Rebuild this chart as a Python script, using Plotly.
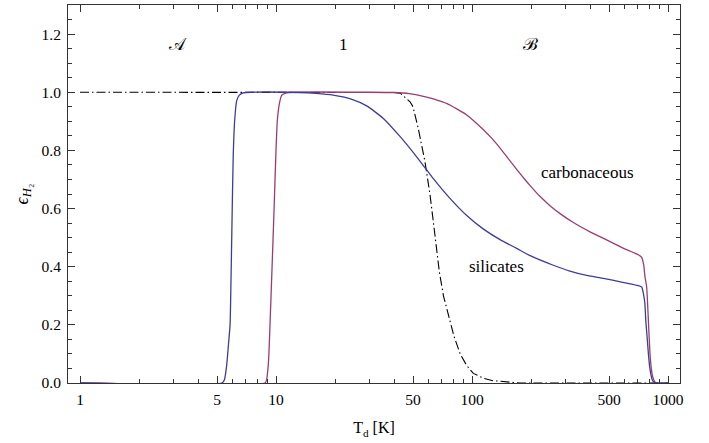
import math
import plotly.graph_objects as go

# ---- data ----
sil_T = [1, 5.3, 5.45, 5.6, 5.75, 5.83, 5.91, 5.98, 6.05, 6.15, 6.3, 6.5, 6.8, 7.5, 13.2, 16, 19.6, 24, 29,
         35.3, 42.9, 52.2, 58.7, 63.5, 77.2, 94, 114, 139, 169, 198, 260, 316, 390, 468, 580, 692,
         734, 750, 762, 770, 782, 794, 805, 816, 830, 850, 870, 1000]
sil_eps = [0, 0, 0.01, 0.06, 0.15, 0.2, 0.4, 0.6, 0.78, 0.9, 0.97, 0.99, 0.998, 1.0, 0.999, 0.996, 0.99,
           0.977, 0.953, 0.91, 0.848, 0.778, 0.733, 0.703, 0.635, 0.576, 0.53, 0.493, 0.463, 0.438,
           0.405, 0.385, 0.369, 0.36, 0.347, 0.336, 0.33, 0.305, 0.274, 0.216, 0.16, 0.102,
           0.06, 0.033, 0.012, 0.002, 0, 0]

carb_T = [1, 8.8, 8.95, 9.1, 9.2, 9.32, 9.55, 9.78, 10.0, 10.15, 10.4, 10.7, 11.3, 12, 30, 40, 48, 56.5,
          63.5, 75, 84, 94, 104, 114, 126, 139, 153, 169, 183, 198, 222, 250, 285, 329, 400, 486,
          590, 680, 706, 734, 752, 763, 778, 794, 809, 822, 835, 855, 876, 1000]
carb_eps = [0, 0, 0.01, 0.05, 0.1, 0.2, 0.4, 0.6, 0.8, 0.9, 0.96, 0.99, 0.998, 1.0, 1.0, 0.999, 0.995,
            0.986, 0.977, 0.96, 0.942, 0.922, 0.897, 0.872, 0.842, 0.808, 0.772, 0.735, 0.706, 0.679,
            0.642, 0.61, 0.58, 0.552, 0.52, 0.492, 0.464, 0.446, 0.441, 0.432, 0.405, 0.365,
            0.331, 0.216, 0.102, 0.05, 0.022, 0.005, 0, 0]

ref_T = [1, 30, 40, 43, 48.3, 50, 53.2, 57.6, 61.1, 64.7, 68.1, 71.5, 75.7, 81, 87, 94, 101.6, 115, 128,
         150, 176, 1000]
ref_eps = [1, 1, 0.999, 0.997, 0.967, 0.95, 0.875, 0.76, 0.646, 0.509, 0.383, 0.3, 0.24, 0.16, 0.10,
           0.06, 0.033, 0.016, 0.008, 0.003, 0.0, 0.0]

x_major = [1, 5, 10, 50, 100, 500, 1000]
x_minor = [2, 3, 4, 6, 7, 8, 9, 20, 30, 40, 60, 70, 80, 90, 200, 300, 400, 600, 700, 800, 900]
y_major = [0, 0.2, 0.4, 0.6, 0.8, 1.0, 1.2]
y_minor = [0.05, 0.1, 0.15, 0.25, 0.3, 0.35, 0.45, 0.5, 0.55, 0.65, 0.7, 0.75, 0.85, 0.9, 0.95,
           1.05, 1.1, 1.15, 1.25]

labels = ["𝒜", "1", "ℬ", "carbonaceous", "silicates"]
label_T = [3.16, 22.0, 198, 390, 134]
label_eps = [1.165, 1.165, 1.165, 0.723, 0.399]

BLUE = "rgb(61,61,153)"
PURPLE = "rgb(153,61,113)"
SERIF = "Liberation Serif, Tinos, Times New Roman, Times, Nimbus Roman, FreeSerif, serif"
AXC = "#333333"

fig = go.Figure()
fig.add_trace(go.Scatter(x=ref_T, y=ref_eps, mode="lines",
                         line=dict(color="black", width=1.1, dash="9px,3px,1.5px,3px"),
                         showlegend=False, hoverinfo="skip"))
fig.add_trace(go.Scatter(x=carb_T, y=carb_eps, mode="lines",
                         line=dict(color=PURPLE, width=1.3, shape="spline", smoothing=0.5),
                         showlegend=False))
fig.add_trace(go.Scatter(x=sil_T, y=sil_eps, mode="lines",
                         line=dict(color=BLUE, width=1.3, shape="spline", smoothing=0.5),
                         showlegend=False))

for t, xv, yv in zip(labels, label_T, label_eps):
    # annotation x on a log axis is given in log10 units
    fig.add_annotation(x=math.log10(xv), y=yv, xref="x", yref="y", text=t, showarrow=False,
                       font=dict(family=SERIF, size=17, color="black"),
                       xanchor="center", yanchor="middle")

xr = [-0.0612, 3.0612]
fig.update_layout(
    width=709, height=443,
    margin=dict(l=68, r=29, t=5, b=60),
    paper_bgcolor="white", plot_bgcolor="white",
    xaxis=dict(type="log", range=xr, tickmode="array", tickvals=x_major,
               ticktext=[str(v) for v in x_major], ticks="inside", ticklen=7, tickwidth=1,
               tickcolor=AXC, showline=True, linecolor=AXC, linewidth=1, mirror="ticks",
               showgrid=False, zeroline=False, ticklabelstandoff=2,
               minor=dict(tickmode="array", tickvals=x_minor, ticks="inside", ticklen=4,
                          tickwidth=1, tickcolor=AXC, showgrid=False),
               tickfont=dict(family=SERIF, size=15.5, color="black"),
               title=dict(text="T<sub>d</sub> [K]", standoff=15,
                          font=dict(family=SERIF, size=16, color="black"))),
    yaxis=dict(range=[0, 1.3], tickmode="array", tickvals=y_major,
               ticktext=[f"{v:.1f}" for v in y_major], ticks="inside", ticklen=7, tickwidth=1,
               tickcolor=AXC, showline=True, linecolor=AXC, linewidth=1, mirror="ticks",
               showgrid=False, zeroline=False, ticklabelstandoff=3,
               minor=dict(tickmode="array", tickvals=y_minor, ticks="inside", ticklen=4,
                          tickwidth=1, tickcolor=AXC, showgrid=False),
               tickfont=dict(family=SERIF, size=15.5, color="black"),
               title=dict(text="<i>ϵ</i><sub><i>H</i>₂</sub>", standoff=8,
                          font=dict(family=SERIF, size=18, color="black"))),
)

fig.write_html("out.html", config={"displayModeBar": False},
               post_script="document.body.style.margin='0px';")
